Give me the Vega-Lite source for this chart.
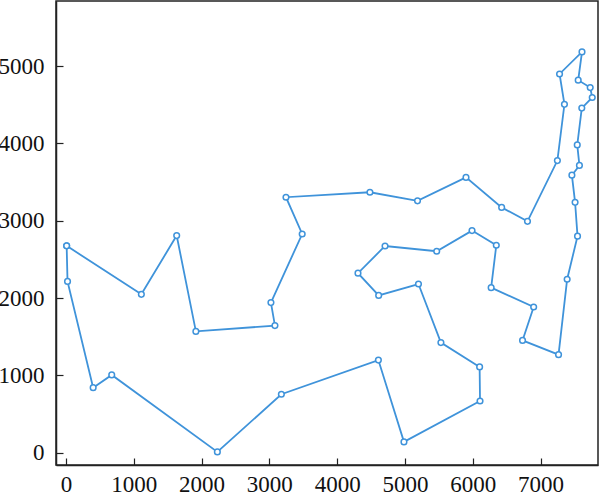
{
  "$schema": "https://vega.github.io/schema/vega-lite/v6.json",
  "width": 542,
  "height": 464,
  "autosize": "none",
  "padding": {"left": 56, "top": 1, "right": 2, "bottom": 34},
  "config": {
    "view": {"stroke": "#222", "strokeWidth": 1.5},
    "axis": {
      "grid": false,
      "labelFont": "Liberation Serif",
      "labelFontSize": 23,
      "labelColor": "#111",
      "domainColor": "#222",
      "domainWidth": 1.5,
      "tickColor": "#222",
      "tickWidth": 1.2,
      "tickSize": -7,
      "title": null
    },
    "axisX": {"labelPadding": 15},
    "axisY": {"labelPadding": 19}
  },
  "data": {
    "values": [
      {"i": 1, "x": 10, "y": 2676},
      {"i": 2, "x": 23, "y": 2216},
      {"i": 3, "x": 401, "y": 841},
      {"i": 4, "x": 675, "y": 1006},
      {"i": 5, "x": 2233, "y": 10},
      {"i": 6, "x": 3177, "y": 756},
      {"i": 7, "x": 4608, "y": 1198},
      {"i": 8, "x": 4985, "y": 140},
      {"i": 9, "x": 6107, "y": 669},
      {"i": 10, "x": 6101, "y": 1110},
      {"i": 11, "x": 5530, "y": 1424},
      {"i": 12, "x": 5199, "y": 2182},
      {"i": 13, "x": 4612, "y": 2035},
      {"i": 14, "x": 4307, "y": 2322},
      {"i": 15, "x": 4706, "y": 2674},
      {"i": 16, "x": 5468, "y": 2606},
      {"i": 17, "x": 5989, "y": 2873},
      {"i": 18, "x": 6347, "y": 2683},
      {"i": 19, "x": 6271, "y": 2135},
      {"i": 20, "x": 6898, "y": 1885},
      {"i": 21, "x": 6734, "y": 1453},
      {"i": 22, "x": 7265, "y": 1268},
      {"i": 23, "x": 7392, "y": 2244},
      {"i": 24, "x": 7545, "y": 2801},
      {"i": 25, "x": 7509, "y": 3239},
      {"i": 26, "x": 7462, "y": 3590},
      {"i": 27, "x": 7573, "y": 3716},
      {"i": 28, "x": 7541, "y": 3981},
      {"i": 29, "x": 7608, "y": 4458},
      {"i": 30, "x": 7762, "y": 4595},
      {"i": 31, "x": 7732, "y": 4723},
      {"i": 32, "x": 7555, "y": 4819},
      {"i": 33, "x": 7611, "y": 5184},
      {"i": 34, "x": 7280, "y": 4899},
      {"i": 35, "x": 7352, "y": 4506},
      {"i": 36, "x": 7248, "y": 3779},
      {"i": 37, "x": 6807, "y": 2993},
      {"i": 38, "x": 6426, "y": 3173},
      {"i": 39, "x": 5900, "y": 3561},
      {"i": 40, "x": 5185, "y": 3258},
      {"i": 41, "x": 4483, "y": 3369},
      {"i": 42, "x": 3245, "y": 3305},
      {"i": 43, "x": 3484, "y": 2829},
      {"i": 44, "x": 3023, "y": 1942},
      {"i": 45, "x": 3082, "y": 1644},
      {"i": 46, "x": 1916, "y": 1569},
      {"i": 47, "x": 1633, "y": 2809},
      {"i": 48, "x": 1112, "y": 2049},
      {"i": 49, "x": 10, "y": 2676}
    ]
  },
  "encoding": {
    "x": {
      "field": "x",
      "type": "quantitative",
      "scale": {"domain": [-147, 7847], "nice": false, "zero": false},
      "axis": {"values": [0, 1000, 2000, 3000, 4000, 5000, 6000, 7000], "format": "d"}
    },
    "y": {
      "field": "y",
      "type": "quantitative",
      "scale": {"domain": [-159, 5843], "nice": false, "zero": false},
      "axis": {"values": [0, 1000, 2000, 3000, 4000, 5000], "format": "d"}
    }
  },
  "layer": [
    {
      "mark": {"type": "line", "color": "#3f93da", "strokeWidth": 1.8},
      "encoding": {"order": {"field": "i", "type": "quantitative"}}
    },
    {
      "mark": {"type": "point", "shape": "circle", "filled": true, "fill": "white", "stroke": "#3f93da", "strokeWidth": 1.5, "size": 32, "opacity": 1}
    }
  ]
}
